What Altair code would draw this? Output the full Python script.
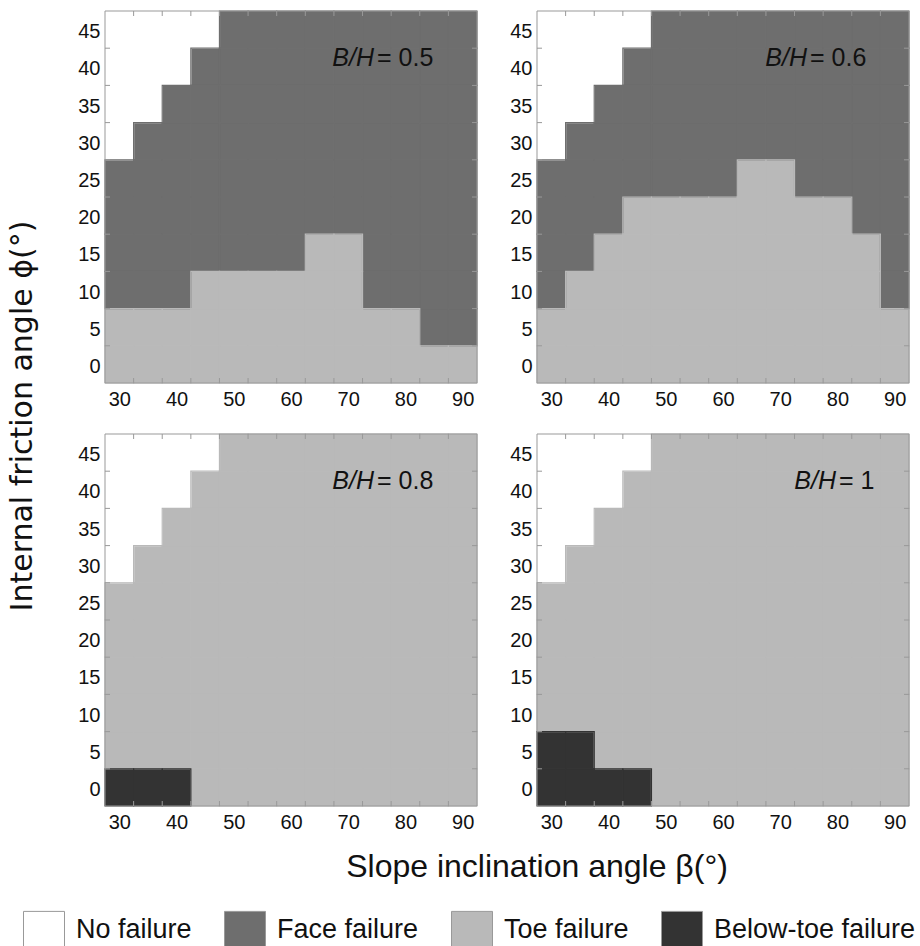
import altair as alt
import pandas as pd

# Grid of the parametric study
slope_angles = [30, 35, 40, 45, 50, 55, 60, 65, 70, 75, 80, 85, 90]
friction_angles = [45, 40, 35, 30, 25, 20, 15, 10, 5, 0]  # top row first

x_tick_labels = [30, 40, 50, 60, 70, 80, 90]
y_tick_labels = [0, 5, 10, 15, 20, 25, 30, 35, 40, 45]

ratio_labels = ["0.5", "0.6", "0.8", "1"]

# Failure mode of each cell, one string per friction angle (top row first),
# one character per slope angle: N no failure, F face, T toe, B below-toe
modes_bh05 = [
    "NNNNFFFFFFFFF",
    "NNNFFFFFFFFFF",
    "NNFFFFFFFFFFF",
    "NFFFFFFFFFFFF",
    "FFFFFFFFFFFFF",
    "FFFFFFFFFFFFF",
    "FFFFFFFTTFFFF",
    "FFFTTTTTTFFFF",
    "TTTTTTTTTTTFF",
    "TTTTTTTTTTTTT",
]
modes_bh06 = [
    "NNNNFFFFFFFFF",
    "NNNFFFFFFFFFF",
    "NNFFFFFFFFFFF",
    "NFFFFFFFFFFFF",
    "FFFFFFFTTFFFF",
    "FFFTTTTTTTTFF",
    "FFTTTTTTTTTTF",
    "FTTTTTTTTTTTF",
    "TTTTTTTTTTTTT",
    "TTTTTTTTTTTTT",
]
modes_bh08 = [
    "NNNNTTTTTTTTT",
    "NNNTTTTTTTTTT",
    "NNTTTTTTTTTTT",
    "NTTTTTTTTTTTT",
    "TTTTTTTTTTTTT",
    "TTTTTTTTTTTTT",
    "TTTTTTTTTTTTT",
    "TTTTTTTTTTTTT",
    "TTTTTTTTTTTTT",
    "BBBTTTTTTTTTT",
]
modes_bh10 = [
    "NNNNTTTTTTTTT",
    "NNNTTTTTTTTTT",
    "NNTTTTTTTTTTT",
    "NTTTTTTTTTTTT",
    "TTTTTTTTTTTTT",
    "TTTTTTTTTTTTT",
    "TTTTTTTTTTTTT",
    "TTTTTTTTTTTTT",
    "BBTTTTTTTTTTT",
    "BBBBTTTTTTTTT",
]
panel_modes = [modes_bh05, modes_bh06, modes_bh08, modes_bh10]

mode_codes = {"N": "No failure", "F": "Face failure", "T": "Toe failure", "B": "Below-toe failure"}
mode_order = ["No failure", "Face failure", "Toe failure", "Below-toe failure"]
mode_colors = ["#ffffff", "#6e6e6e", "#b9b9b9", "#333333"]

x_title = "Slope inclination angle β(°)"
y_title = "Internal friction angle ϕ(°)"

FONT = "Liberation Sans, Arial, Helvetica, sans-serif"
WIDE_FONT = "DejaVu Sans, Verdana, sans-serif"
INK = "#111111"
FRAME = "#999999"
W = H = 372
label_anchor = [270, 271, 270, 300]

# cell edges: each value sits in the middle of a cell one grid step wide
half = (slope_angles[1] - slope_angles[0]) / 2
x_lo, x_hi = min(slope_angles) - half, max(slope_angles) + half
y_lo, y_hi = min(friction_angles) - half, max(friction_angles) + half
x_edges = [b + half for b in slope_angles[:-1]]
y_edges = [b + half for b in sorted(friction_angles)[:-1]]

x_scale = alt.Scale(domain=[x_lo, x_hi], nice=False, zero=False)
y_scale = alt.Scale(domain=[y_lo, y_hi], nice=False, zero=False)
mode_scale = alt.Scale(domain=mode_order, range=mode_colors)


def cells_frame(rows):
    recs = []
    for phi, row in zip(friction_angles, rows):
        for beta, code in zip(slope_angles, row):
            recs.append({"x0": beta - half, "x1": beta + half,
                         "y0": phi - half, "y1": phi + half,
                         "mode": mode_codes[code]})
    return pd.DataFrame(recs)


frame_df = pd.DataFrame({"x0": [x_lo], "x1": [x_hi], "y0": [y_lo], "y1": [y_hi]})
xtick_df = pd.DataFrame({"b": x_edges, "lo": y_lo, "hi": y_hi})
ytick_df = pd.DataFrame({"b": y_edges, "lo": x_lo, "hi": x_hi})


def box(chart, x_axis=None, y_axis=None):
    return chart.encode(
        x=alt.X("x0:Q", scale=x_scale, axis=x_axis), x2="x1:Q",
        y=alt.Y("y0:Q", scale=y_scale, axis=y_axis), y2="y1:Q",
    )


def panel(i):
    df = cells_frame(panel_modes[i])
    cells = box(
        alt.Chart(df).mark_rect(),
        x_axis=alt.Axis(values=x_tick_labels, format="d", title=None, ticks=False,
                        domain=False, grid=False, labelPadding=6, labelFlush=False,
                        labelOverlap=False),
        y_axis=alt.Axis(values=y_tick_labels, format="d", title=None, ticks=False,
                        domain=False, grid=False, labelPadding=5, labelOffset=2,
                        labelFlush=False, labelOverlap=False),
    ).encode(color=alt.Color("mode:N", scale=mode_scale, legend=alt.Legend(title=None)))
    # each mode's cells outlined in their own colour, closing hairline seams
    seams = [
        box(alt.Chart(df).transform_filter(alt.datum.mode == m)
            .mark_rect(filled=False, stroke=c, strokeWidth=1.2))
        for m, c in zip(mode_order, mode_colors)
    ]
    frame = box(alt.Chart(frame_df).mark_rect(filled=False, stroke=FRAME, strokeWidth=1))

    # short inward ticks on the cell edges along all four sides
    tick = dict(color=FRAME, strokeWidth=1)
    t_bottom = alt.Chart(xtick_df).mark_rule(y2Offset=-5, **tick).encode(
        x=alt.X("b:Q", scale=x_scale, axis=None),
        y=alt.Y("lo:Q", scale=y_scale, axis=None), y2="lo:Q")
    t_top = alt.Chart(xtick_df).mark_rule(y2Offset=5, **tick).encode(
        x=alt.X("b:Q", scale=x_scale, axis=None),
        y=alt.Y("hi:Q", scale=y_scale, axis=None), y2="hi:Q")
    t_left = alt.Chart(ytick_df).mark_rule(x2Offset=5, **tick).encode(
        x=alt.X("lo:Q", scale=x_scale, axis=None), x2="lo:Q",
        y=alt.Y("b:Q", scale=y_scale, axis=None))
    t_right = alt.Chart(ytick_df).mark_rule(x2Offset=-5, **tick).encode(
        x=alt.X("hi:Q", scale=x_scale, axis=None), x2="hi:Q",
        y=alt.Y("b:Q", scale=y_scale, axis=None))

    tag = pd.DataFrame({"lead": ["B/H"], "rest": ["= " + ratio_labels[i]]})
    lead = alt.Chart(tag).mark_text(
        align="right", baseline="alphabetic", fontStyle="italic", fontSize=25,
        font=FONT, color=INK, dx=-1,
    ).encode(text="lead:N", x=alt.value(label_anchor[i]), y=alt.value(55))
    rest = alt.Chart(tag).mark_text(
        align="left", baseline="alphabetic", fontSize=25, font=FONT, color=INK, dx=2,
    ).encode(text="rest:N", x=alt.value(label_anchor[i]), y=alt.value(55))
    return (
        alt.layer(cells, *seams, frame, t_bottom, t_top, t_left, t_right, lead, rest)
        .resolve_axis(x="independent", y="independent")
        .properties(width=W, height=H)
    )


row1 = alt.hconcat(panel(0), panel(1), spacing=31)
row2 = alt.hconcat(panel(2), panel(3), spacing=31)
grid = alt.vconcat(row1, row2, spacing=24)

y_title_view = (
    alt.Chart(pd.DataFrame({"t": [y_title]}))
    .mark_text(angle=270, align="center", baseline="middle", fontSize=30, font=WIDE_FONT,
               color=INK)
    .encode(text="t:N", x=alt.value(23), y=alt.value(405))
    .properties(width=40, height=794)
)
x_title_view = (
    alt.Chart(pd.DataFrame({"t": [x_title]}))
    .mark_text(align="center", baseline="alphabetic", fontSize=32, font=FONT, color=INK)
    .encode(text="t:N", x=alt.value(537), y=alt.value(45))
    .properties(width=880, height=56)
)

chart = (
    alt.vconcat(alt.hconcat(y_title_view, grid, spacing=37), x_title_view, spacing=0)
    .properties(padding={"left": 0, "top": 10, "right": 0, "bottom": 0})
    .configure_view(stroke=None)
    .configure_axis(labelFont=FONT, labelFontSize=20, labelColor=INK, grid=False)
    .configure_legend(
        orient="none", legendX=23, legendY=898, direction="horizontal", columns=4,
        symbolType="M-1,-0.93L1,-0.93L1,0.93L-1,0.93Z", symbolSize=1681,
        symbolStrokeColor=FRAME, symbolStrokeWidth=1, symbolOpacity=1,
        labelFont=FONT, labelFontSize=27, labelColor=INK,
        labelOffset=11, columnPadding=30, padding=0, labelLimit=400,
    )
)

chart.save("out.html", embed_options={"renderer": "svg", "actions": False})
